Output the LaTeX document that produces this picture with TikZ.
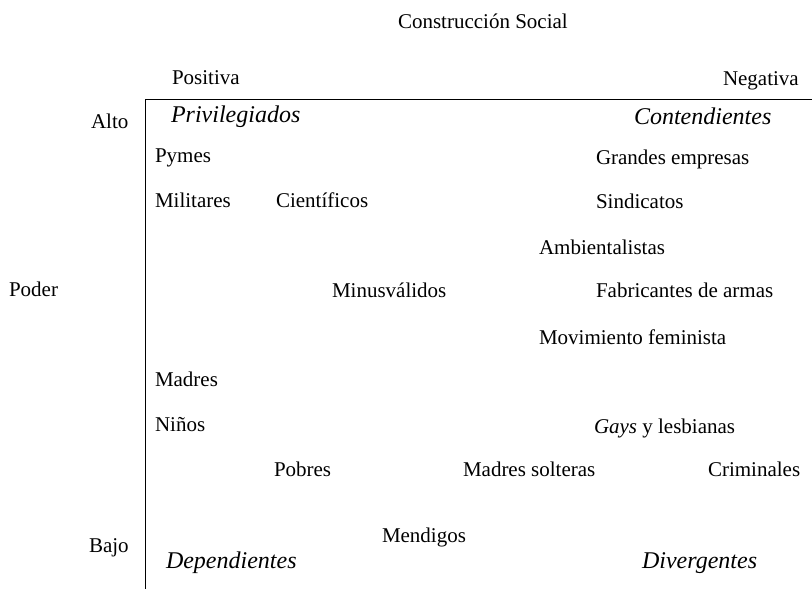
\documentclass[tikz,border=0pt]{standalone}
\usepackage{fontspec}
\setmainfont{Liberation Serif}
\begin{document}
\begin{tikzpicture}[x=1bp,y=-1bp,
  lbl/.style={anchor=base west,inner sep=0pt,outer sep=0pt,font=\fontsize{21bp}{25bp}\selectfont},
  quad/.style={anchor=base west,inner sep=0pt,outer sep=0pt,font=\fontsize{24bp}{28bp}\selectfont\itshape},
  axis/.style={line width=1.5bp,black}]
\useasboundingbox (0,0) rectangle (812,589);
% axes
\coordinate (corner) at (145.5,99.5);
\coordinate (xend) at (812,99.5);
\coordinate (yend) at (145.5,589);
\draw[axis] (xend) -- (corner) -- (yend);
% titles
\node[lbl] (title) at (398,29) {Construcción Social};
\node[lbl] (pos) at (172,85) {Positiva};
\node[lbl] (neg) at (723,86) {Negativa};
\node[lbl] (alto) at (91,129) {Alto};
\node[lbl] (poder) at (9,296) {Poder};
\node[lbl] (bajo) at (89,552) {Bajo};
% quadrant labels
\node[quad] (priv) at (171,123) {Privilegiados};
\node[quad] (cont) at (634,125) {Contendientes};
\node[quad] (dep) at (166,568) {Dependientes};
\node[quad] (div) at (642,568) {Divergentes};
% groups
\node[lbl] (pymes) at (155,163) {Pymes};
\node[lbl] (grandes) at (596,165) {Grandes empresas};
\node[lbl] (mil) at (155,208) {Militares};
\node[lbl] (cien) at (276,208) {Científicos};
\node[lbl] (sind) at (596,209) {Sindicatos};
\node[lbl] (amb) at (539,254) {Ambientalistas};
\node[lbl] (minus) at (332,297) {Minusválidos};
\node[lbl] (fab) at (596,297) {Fabricantes de armas};
\node[lbl] (mov) at (539,344) {Movimiento feminista};
\node[lbl] (madres) at (155,386) {Madres};
\node[lbl] (ninos) at (155,431) {Niños};
\node[lbl] (gays) at (594,433) {\textit{Gays} y lesbianas};
\node[lbl] (pobres) at (274,476) {Pobres};
\node[lbl] (msolt) at (463,476) {Madres solteras};
\node[lbl] (crim) at (708,476) {Criminales};
\node[lbl] (mend) at (382,542) {Mendigos};
\end{tikzpicture}
\end{document}
